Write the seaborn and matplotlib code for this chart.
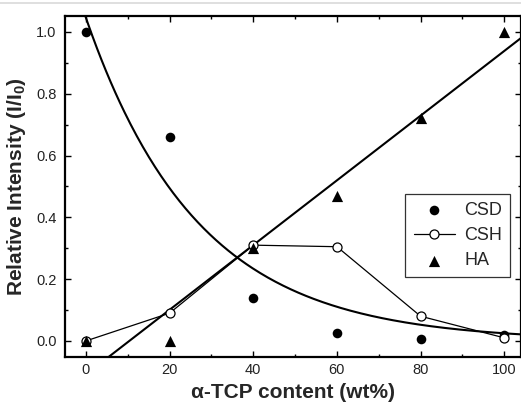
import matplotlib
matplotlib.use("Agg")
import matplotlib.pyplot as plt
from matplotlib.lines import Line2D
from matplotlib.ticker import MultipleLocator
import numpy as np
import pandas as pd
import seaborn as sns

# values
tcp = [0, 20, 40, 60, 80, 100]
csd = [1.0, 0.66, 0.14, 0.025, 0.005, 0.02]
csh = [0.0, 0.09, 0.31, 0.305, 0.08, 0.01]
ha = [0.0, 0.0, 0.30, 0.47, 0.72, 1.0]

df = pd.DataFrame({"tcp": tcp, "CSD": csd, "CSH": csh, "HA": ha})

sns.set_theme(style="ticks")
plt.rcParams["font.family"] = ["Liberation Sans", "DejaVu Sans"]
plt.rcParams["mathtext.fontset"] = "custom"
plt.rcParams["mathtext.bf"] = "Liberation Sans:bold"
plt.rcParams["mathtext.rm"] = "Liberation Sans"

fig = plt.figure(figsize=(5.21, 4.08), dpi=100)
ax = fig.add_axes([0.1248, 0.125, 0.8752, 0.836])

# exponential decay fit for CSD: y = A*exp(-x/t), grid search on t
x = np.array(tcp, dtype=float)
y = np.array(csd)
best = None
for t in np.linspace(5, 100, 951):
    e = np.exp(-x / t)
    a = np.dot(e, y) / np.dot(e, e)
    sse = np.sum((a * e - y) ** 2)
    if best is None or sse < best[0]:
        best = (sse, t, a)
_, t_fit, a_fit = best
xs = np.linspace(-5, 104, 300)
ax.plot(xs, a_fit * np.exp(-xs / t_fit), color="black", lw=1.5, zorder=2)

# linear fit for HA
sns.regplot(data=df, x="tcp", y="HA", ax=ax, ci=None, truncate=False, scatter=False,
            line_kws={"color": "black", "lw": 1.5, "zorder": 2})

sns.scatterplot(data=df, x="tcp", y="CSD", ax=ax, marker="o", s=48, color="black",
                edgecolor="black", linewidth=0, zorder=4, label="CSD")
sns.lineplot(data=df, x="tcp", y="CSH", ax=ax, marker="o", markersize=6.5, color="black",
             markerfacecolor="white", markeredgecolor="black", markeredgewidth=0.9,
             lw=0.9, zorder=5, label="CSH")
sns.scatterplot(data=df, x="tcp", y="HA", ax=ax, marker="^", s=65, color="black",
                edgecolor="black", linewidth=0, zorder=6, label="HA")

ax.set_xlim(-5, 104)
ax.set_ylim(-0.052, 1.052)
ax.set_xticks([0, 20, 40, 60, 80, 100])
ax.set_yticks([0.0, 0.2, 0.4, 0.6, 0.8, 1.0])
ax.set_yticklabels(["0.0", "0.2", "0.4", "0.6", "0.8", "1.0"])
ax.xaxis.set_minor_locator(MultipleLocator(10))
ax.yaxis.set_minor_locator(MultipleLocator(0.1))
ax.tick_params(which="both", direction="in", top=True, right=True, color="black",
               labelsize=10.5, labelcolor="#222222", width=1.0)
ax.tick_params(which="major", length=4.5)
ax.tick_params(axis="x", which="major", pad=4)
ax.tick_params(axis="y", which="major", pad=6)
ax.tick_params(which="minor", length=2.5)
for s in ax.spines.values():
    s.set_linewidth(1.6)
    s.set_color("black")

ax.set_xlabel("α-TCP content (wt%)", fontsize=15, fontweight="bold", labelpad=5)
ax.set_ylabel(r"Relative Intensity (I/I$_\mathbf{0}$)", fontsize=15, fontweight="bold", labelpad=6)

leg = ax.legend(loc="upper right", bbox_to_anchor=(0.976, 0.478), borderaxespad=0,
                fontsize=13, frameon=True, fancybox=False, edgecolor="black",
                handlelength=2.3, handletextpad=0.5, borderpad=0.45, labelspacing=0.45)
leg.get_frame().set_linewidth(0.9)

fig.add_artist(Line2D([0, 1], [0.993, 0.993], color="#d9d9d9", lw=1.2, transform=fig.transFigure))

fig.savefig("out.png", dpi=100)
